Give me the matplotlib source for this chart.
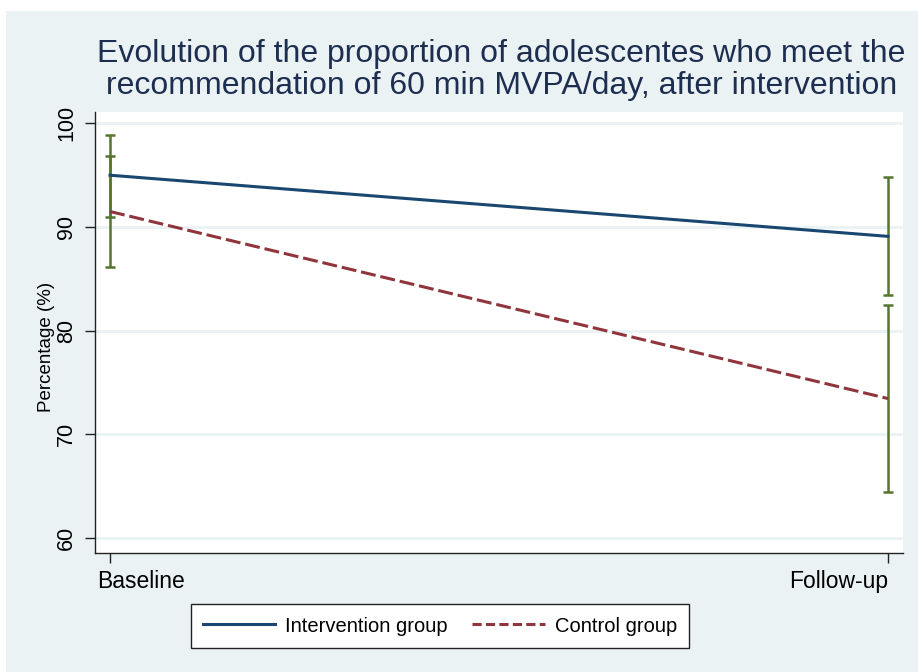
import numpy as np
import matplotlib.pyplot as plt
from matplotlib.lines import Line2D
from matplotlib.transforms import ScaledTranslation

plt.rcParams['font.family'] = ['Liberation Sans', 'DejaVu Sans']

# Données : moyenne et IC 95 % par groupe
periodes = ['Baseline', 'Follow-up']
intervention = [95.0, 89.1]
intervention_bas = [91.0, 83.4]
intervention_haut = [98.9, 94.8]
controle = [91.5, 73.45]
controle_bas = [86.1, 64.4]
controle_haut = [96.9, 82.5]

fond = '#eaf2f3'
bleu = '#1a476f'
rouge = '#90353b'
vert = '#55752f'
tirets = (0, (4.9, 1.6))

fig = plt.figure(figsize=(9.18, 6.72), dpi=100)
fig.patch.set_facecolor('white')
# cadre coloré du graphique
fig.patches.append(plt.Rectangle((6 / 918, 0), 1, 1 - 11 / 672, transform=fig.transFigure,
                                 facecolor=fond, edgecolor='none', zorder=-10))

ax = fig.add_axes([95 / 918, 1 - 553 / 672, 808 / 918, 441 / 672])
ax.set_facecolor('white')

x = np.arange(len(periodes))

# intervalles de confiance
for bas, haut in [(intervention_bas, intervention_haut), (controle_bas, controle_haut)]:
    ax.vlines(x, bas, haut, color=vert, lw=1.8, zorder=3)
    ax.hlines(bas, x - 0.007, x + 0.007, color=vert, lw=1.8, zorder=3)
    ax.hlines(haut, x - 0.007, x + 0.007, color=vert, lw=1.8, zorder=3)

ax.plot(x, intervention, color=bleu, lw=2.2, zorder=4)
ax.plot(x, controle, color=rouge, lw=2.2, ls=tirets, zorder=4)

ax.set_xlim(-0.0193, 1.0193)
ax.set_ylim(58.55, 101.1)
ax.set_yticks([60, 70, 80, 90, 100])
ax.set_xticks(x)
ax.set_xticklabels(periodes)
ax.grid(axis='y', color=fond, lw=2)
ax.set_axisbelow(True)

for s in ['top', 'right']:
    ax.spines[s].set_visible(False)
for s in ['left', 'bottom']:
    ax.spines[s].set_color('#222222')
    ax.spines[s].set_linewidth(1)

ax.tick_params(axis='y', length=7, width=1, color='#222222', labelsize=15.5, pad=6)
ax.tick_params(axis='x', length=7, width=1, color='#222222', labelsize=16.5, pad=5)
for lab in ax.get_yticklabels():
    lab.set_rotation(90)
    lab.set_va('center')

# étiquettes de l'axe x ramenées à l'intérieur
lab_x = ax.get_xticklabels()
lab_x[0].set_ha('left')
lab_x[0].set_transform(lab_x[0].get_transform() + ScaledTranslation(-13 / 100, 0, fig.dpi_scale_trans))
lab_x[1].set_ha('right')

ax.set_ylabel('Percentage (%)', fontsize=13.5, va='center')
ax.yaxis.set_label_coords(-0.0606, 0.467)

fig.text(0.546, 1 - 70 / 672,
         'Evolution of the proportion of adolescentes who meet the\n'
         'recommendation of 60 min MVPA/day, after intervention',
         ha='center', va='center', fontsize=23, color='#1e2e50', linespacing=1.06)

poignees = [Line2D([], [], color=bleu, lw=2.2),
            Line2D([], [], color=rouge, lw=2.2, ls=(0, (3.0, 1.4)))]
leg = fig.legend(poignees, ['Intervention group', 'Control group'], ncol=2,
                 loc='center', bbox_to_anchor=(440 / 918, 1 - 626 / 672),
                 fontsize=14.5, frameon=True, fancybox=False,
                 edgecolor='#222222', facecolor='white', framealpha=1,
                 handlelength=3.6, columnspacing=1.2, borderpad=0.6, handletextpad=0.5)
leg.get_frame().set_linewidth(1)

fig.savefig('out.png', dpi=100, facecolor=fig.get_facecolor())
